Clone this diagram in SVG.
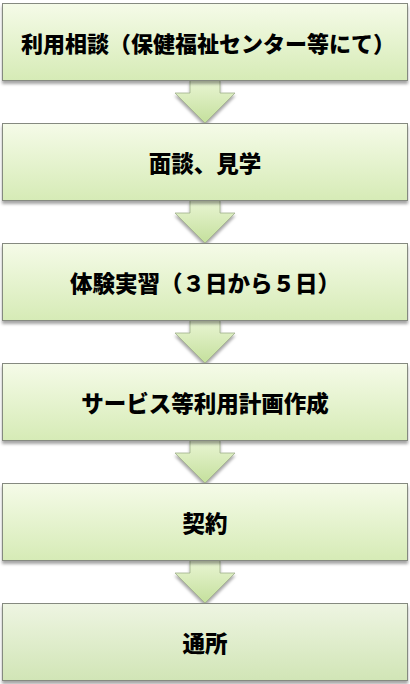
<svg xmlns="http://www.w3.org/2000/svg" width="410" height="684" viewBox="0 0 410 684">
<defs>
<linearGradient id="gBox" x1="0" y1="0" x2="0" y2="1">
<stop offset="0" stop-color="#f5fbe8"/>
<stop offset="1" stop-color="#d6ebb6"/>
</linearGradient>
<linearGradient id="gLast" x1="0" y1="0" x2="0" y2="1">
<stop offset="0" stop-color="#eef5e2"/>
<stop offset="1" stop-color="#d1e5b6"/>
</linearGradient>
<linearGradient id="gArr" x1="0" y1="0" x2="0" y2="1">
<stop offset="0" stop-color="#e9f5d3"/>
<stop offset="1" stop-color="#c4e09c"/>
</linearGradient>
<filter id="sh" x="-5%" y="-10%" width="110%" height="130%">
<feDropShadow dx="0" dy="3" stdDeviation="1.5" flood-color="#000" flood-opacity="0.35"/>
</filter>
<path id="arrow" d="M190,80.5 L220,80.5 L220,93 L235,93 L205,123 L175,93 L190,93 Z"/>
</defs>
<style>
.box{fill:url(#gBox);stroke:#858a80;stroke-width:1;filter:url(#sh)}
.last{fill:url(#gLast)}
.lbl{font-family:"Noto Sans CJK JP","Noto Sans CJK SC",sans-serif;font-weight:900;font-size:22.5px;fill:#000;text-anchor:middle;dominant-baseline:central}
.arr{fill:url(#gArr);stroke:#9fae8c;stroke-width:0.8;filter:url(#sh)}
</style>
<g id="connectors">
<use href="#arrow" class="arr"/>
<use href="#arrow" class="arr" y="120"/>
<use href="#arrow" class="arr" y="240"/>
<use href="#arrow" class="arr" y="360"/>
<use href="#arrow" class="arr" y="480"/>
</g>
<g id="n1"><rect class="box" x="2.5" y="3.5" width="405" height="77"/><text class="lbl" x="208" y="42" style="font-size:22px">利用相談（保健福祉センター等にて）</text></g>
<g id="n2"><rect class="box" x="2.5" y="123.5" width="405" height="77"/><text class="lbl" x="205" y="162">面談、見学</text></g>
<g id="n3"><rect class="box" x="2.5" y="243.5" width="405" height="77"/><text class="lbl" x="205" y="282">体験実習（３日から５日）</text></g>
<g id="n4"><rect class="box" x="2.5" y="363.5" width="405" height="77"/><text class="lbl" x="205" y="402">サービス等利用計画作成</text></g>
<g id="n5"><rect class="box" x="2.5" y="483.5" width="405" height="77"/><text class="lbl" x="205" y="522">契約</text></g>
<g id="n6"><rect class="box last" x="2.5" y="603.5" width="405" height="77"/><text class="lbl" x="205" y="642">通所</text></g>
</svg>
